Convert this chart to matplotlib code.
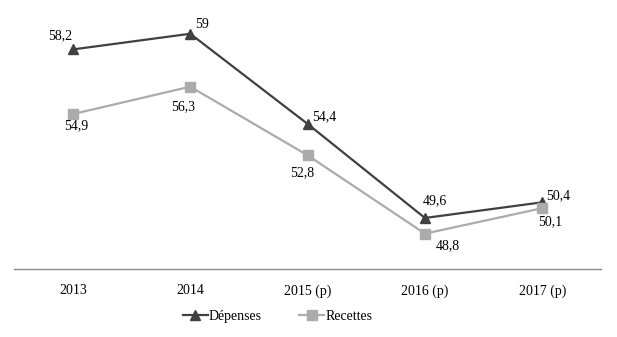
import matplotlib.pyplot as plt

plt.rcParams['font.family'] = ['Liberation Serif', 'DejaVu Serif']

annees = ['2013', '2014', '2015 (p)', '2016 (p)', '2017 (p)']
depenses = [58.2, 59.0, 54.4, 49.6, 50.4]
recettes = [54.9, 56.3, 52.8, 48.8, 50.1]

# label offsets in pixels (dx, dy)
off_dep = [(-13, 14), (12, 9), (17, 7), (10, 17), (16, 7)]
off_rec = [(3, -12), (-7, -20), (-5, -17), (23, -12), (8, -14)]

fig = plt.figure(figsize=(6.17, 3.37), dpi=100)
ax = fig.add_axes([0.023, 0.202, 0.951, 0.756])

x = range(len(annees))
ax.plot(x, depenses, color='#404040', lw=1.6, marker='^', ms=7, label='Dépenses')
ax.plot(x, recettes, color='#ababab', lw=1.6, marker='s', ms=6.5, label='Recettes')

def fmt(v):
    s = ('%.1f' % v).replace('.', ',')
    return s[:-2] if s.endswith(',0') else s

for i, v in enumerate(depenses):
    ax.annotate(fmt(v), (i, v), xytext=off_dep[i], textcoords='offset pixels',
                ha='center', va='center', fontsize=10)
for i, v in enumerate(recettes):
    ax.annotate(fmt(v), (i, v), xytext=off_rec[i], textcoords='offset pixels',
                ha='center', va='center', fontsize=10)

ax.set_xlim(-0.5, 4.5)
ax.set_ylim(47, 60)
ax.set_xticks(list(x))
ax.set_xticklabels(annees, fontsize=10)
ax.tick_params(axis='x', length=0, pad=11)
ax.set_yticks([])
for s in ['top', 'left', 'right']:
    ax.spines[s].set_visible(False)
ax.spines['bottom'].set_color('#8c8c8c')
ax.spines['bottom'].set_linewidth(1)

fig.legend(loc='center', bbox_to_anchor=(0.45, 0.062), ncol=2, frameon=False,
           fontsize=10, handlelength=1.8, handletextpad=0.1, columnspacing=2.7)

fig.savefig('out.png', dpi=100)
